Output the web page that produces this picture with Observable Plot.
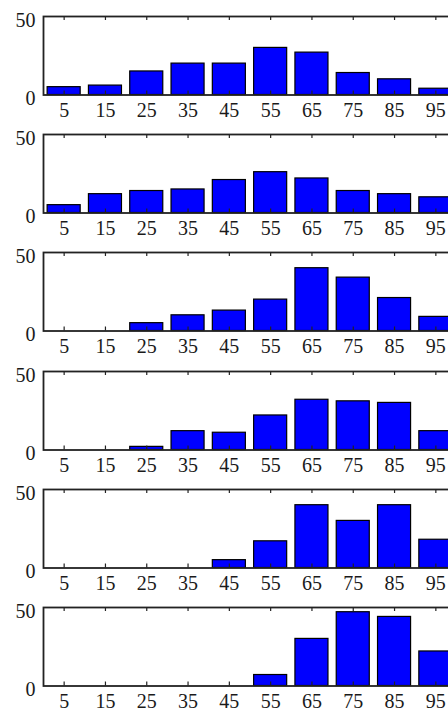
<!DOCTYPE html>
<html>
<head>
<meta charset="utf-8">
<script src="https://cdn.jsdelivr.net/npm/d3@7"></script>
<script src="https://cdn.jsdelivr.net/npm/@observablehq/plot@0.6"></script>
<style>
html, body { margin: 0; padding: 0; background: #fff; overflow: hidden; width: 448px; height: 710px; }
#wrap { position: relative; width: 448px; height: 710px; overflow: hidden; }
</style>
</head>
<body>
<div id="wrap"></div>
<script>
// Bin centres (x tick labels)
const bins = [5, 15, 25, 35, 45, 55, 65, 75, 85, 95];
// Y tick labels
const yTicks = [0, 50];
// Counts per panel (top to bottom)
const panel1 = [5, 6, 15, 20, 20, 30, 27, 14, 10, 4];
const panel2 = [5, 12, 14, 15, 21, 26, 22, 14, 12, 10];
const panel3 = [0, 0, 5, 10, 13, 20, 40, 34, 21, 9];
const panel4 = [0, 0, 2, 12, 11, 22, 32, 31, 30, 12];
const panel5 = [0, 0, 0, 0, 5, 17, 40, 30, 40, 18];
const panel6 = [0, 0, 0, 0, 0, 7, 30, 47, 44, 22];
const panels = [panel1, panel2, panel3, panel4, panel5, panel6];

const FONT = "'Liberation Serif', 'Times New Roman', serif";
const W = 470, H = 122, STEP = 118.2, M_TOP = 16, INNER_H = 78.5;
const wrap = document.getElementById("wrap");

panels.forEach((vals, i) => {
  const data = bins.map((b, j) => ({bin: b, count: vals[j]}));
  const svg = Plot.plot({
    width: W,
    height: H,
    marginTop: M_TOP,
    marginBottom: H - M_TOP - INNER_H,
    marginLeft: 43,
    marginRight: 14,
    style: {
      fontFamily: FONT,
      fontSize: "20px",
      color: "#1a1a1a",
      background: "transparent",
      overflow: "visible",
      maxWidth: "none"
    },
    x: {domain: [0, 100], label: null},
    y: {domain: [0, 50], label: null},
    marks: [
      Plot.rect(data, {
        x1: d => d.bin - 4,
        x2: d => d.bin + 4,
        y1: 0,
        y2: "count",
        fill: "#0000ff",
        stroke: "#000",
        strokeWidth: 1.2
      }),
      Plot.frame({stroke: "#222", strokeWidth: 1.8}),
      Plot.tickX(bins, {x: d => d, insetTop: INNER_H - 4, stroke: "#222", strokeWidth: 1.2}),
      Plot.tickX(bins, {x: d => d, insetBottom: INNER_H - 4, stroke: "#222", strokeWidth: 1.2}),
      Plot.axisX(bins, {tickSize: 0, tickPadding: 8, fontSize: 20, fontFamily: FONT, label: null}),
      Plot.axisY(yTicks, {tickSize: 0, tickPadding: 8, dy: 4, fontSize: 20, fontFamily: FONT, label: null})
    ]
  });
  svg.style.position = "absolute";
  svg.style.left = "0px";
  svg.style.top = (i * STEP) + "px";
  wrap.appendChild(svg);
});
</script>
</body>
</html>
